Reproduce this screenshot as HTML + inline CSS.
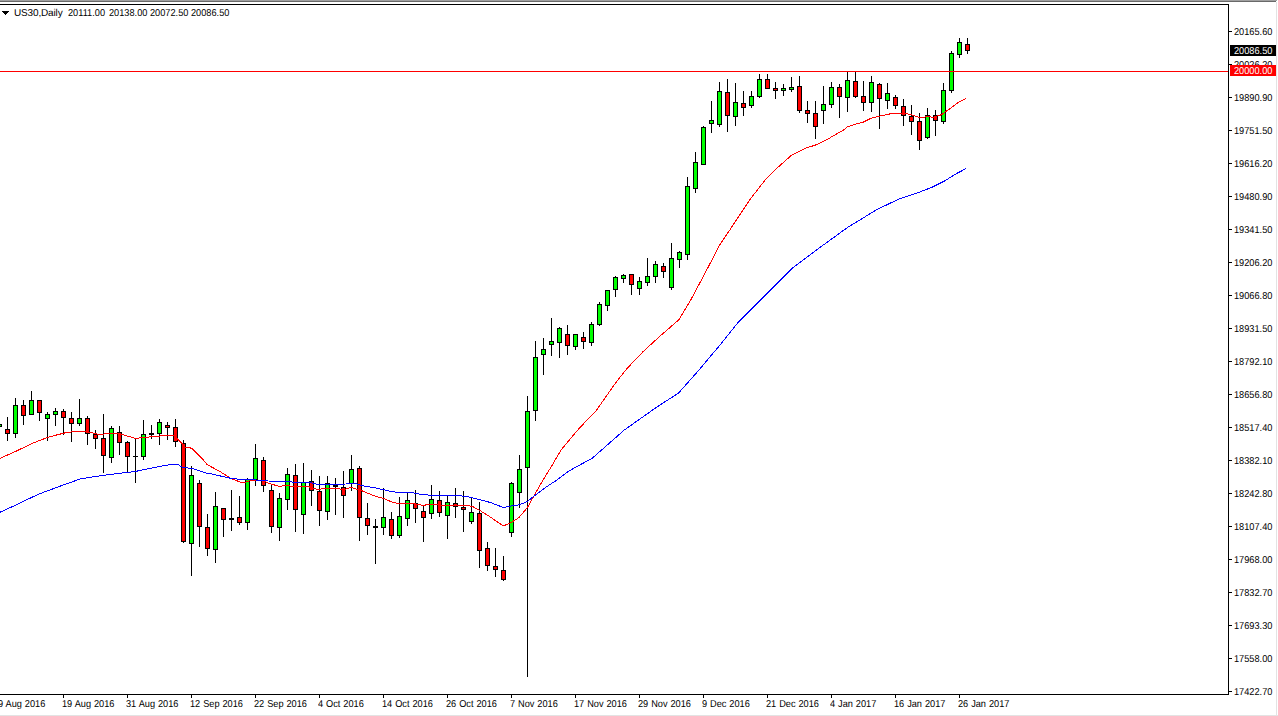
<!DOCTYPE html>
<html><head><meta charset="utf-8">
<style>
html,body{margin:0;padding:0;background:#fff;}
body{width:1278px;height:716px;position:relative;overflow:hidden;}
svg{position:absolute;left:0;top:0;}
.t{position:absolute;font-family:"Liberation Sans",sans-serif;font-size:10px;letter-spacing:-0.5px;line-height:7px;height:7px;white-space:pre;color:#000;text-rendering:geometricPrecision;}
.x{letter-spacing:0px;word-spacing:0.4px;transform:scaleX(0.92);transform-origin:0 0;}
.h{letter-spacing:-0.15px;}
.n{letter-spacing:0;transform:scaleX(0.92);transform-origin:0 0;}
.box{position:absolute;left:1230px;width:46px;height:11px;}
</style></head><body>
<svg width="1278" height="716" viewBox="0 0 1278 716" shape-rendering="crispEdges">
<rect x="0" y="0" width="1277" height="1" fill="#a0a0a0"/>
<rect x="0" y="1" width="1276" height="1" fill="#696969"/>
<rect x="1276" y="2" width="1" height="714" fill="#e3e3e3"/>
<rect x="0" y="715" width="1278" height="1" fill="#e3e3e3"/>
<g fill="#000">
<rect x="0" y="4" width="1229" height="1"/>
<rect x="1228" y="4" width="1" height="691"/>
<rect x="0" y="694" width="1229" height="1"/>
<rect x="1229" y="31" width="3" height="1"/><rect x="1229" y="64" width="3" height="1"/><rect x="1229" y="97" width="3" height="1"/><rect x="1229" y="130" width="3" height="1"/><rect x="1229" y="163" width="3" height="1"/><rect x="1229" y="196" width="3" height="1"/><rect x="1229" y="229" width="3" height="1"/><rect x="1229" y="262" width="3" height="1"/><rect x="1229" y="295" width="3" height="1"/><rect x="1229" y="328" width="3" height="1"/><rect x="1229" y="361" width="3" height="1"/><rect x="1229" y="394" width="3" height="1"/><rect x="1229" y="427" width="3" height="1"/><rect x="1229" y="460" width="3" height="1"/><rect x="1229" y="493" width="3" height="1"/><rect x="1229" y="526" width="3" height="1"/><rect x="1229" y="559" width="3" height="1"/><rect x="1229" y="592" width="3" height="1"/><rect x="1229" y="625" width="3" height="1"/><rect x="1229" y="658" width="3" height="1"/><rect x="1229" y="691" width="3" height="1"/><rect x="-1" y="695" width="1" height="3"/><rect x="63" y="695" width="1" height="3"/><rect x="127" y="695" width="1" height="3"/><rect x="191" y="695" width="1" height="3"/><rect x="255" y="695" width="1" height="3"/><rect x="319" y="695" width="1" height="3"/><rect x="383" y="695" width="1" height="3"/><rect x="447" y="695" width="1" height="3"/><rect x="511" y="695" width="1" height="3"/><rect x="575" y="695" width="1" height="3"/><rect x="639" y="695" width="1" height="3"/><rect x="703" y="695" width="1" height="3"/><rect x="767" y="695" width="1" height="3"/><rect x="831" y="695" width="1" height="3"/><rect x="895" y="695" width="1" height="3"/><rect x="959" y="695" width="1" height="3"/>
</g>

<g fill="#000">
<rect x="-1" y="420" width="1" height="10"/>
<rect x="-3" y="424" width="5" height="3"/>
<rect x="-2" y="425" width="3" height="1" fill="#00ff00"/>
<rect x="7" y="417" width="1" height="24"/>
<rect x="5" y="429" width="5" height="5"/>
<rect x="6" y="430" width="3" height="3" fill="#ff0000"/>
<rect x="15" y="398" width="1" height="40"/>
<rect x="13" y="405" width="5" height="29"/>
<rect x="14" y="406" width="3" height="27" fill="#00ff00"/>
<rect x="23" y="400" width="1" height="25"/>
<rect x="21" y="405" width="5" height="11"/>
<rect x="22" y="406" width="3" height="9" fill="#ff0000"/>
<rect x="31" y="391" width="1" height="24"/>
<rect x="29" y="400" width="5" height="15"/>
<rect x="30" y="401" width="3" height="13" fill="#00ff00"/>
<rect x="39" y="400" width="1" height="21"/>
<rect x="37" y="400" width="5" height="13"/>
<rect x="38" y="401" width="3" height="11" fill="#ff0000"/>
<rect x="47" y="412" width="1" height="29"/>
<rect x="45" y="414" width="5" height="5"/>
<rect x="46" y="415" width="3" height="3" fill="#00ff00"/>
<rect x="55" y="408" width="1" height="18"/>
<rect x="53" y="411" width="5" height="4"/>
<rect x="54" y="412" width="3" height="2" fill="#00ff00"/>
<rect x="63" y="409" width="1" height="26"/>
<rect x="61" y="411" width="5" height="7"/>
<rect x="62" y="412" width="3" height="5" fill="#ff0000"/>
<rect x="71" y="412" width="1" height="30"/>
<rect x="69" y="418" width="5" height="6"/>
<rect x="70" y="419" width="3" height="4" fill="#ff0000"/>
<rect x="79" y="399" width="1" height="27"/>
<rect x="77" y="418" width="5" height="6"/>
<rect x="78" y="419" width="3" height="4" fill="#00ff00"/>
<rect x="87" y="416" width="1" height="29"/>
<rect x="85" y="418" width="5" height="16"/>
<rect x="86" y="419" width="3" height="14" fill="#ff0000"/>
<rect x="95" y="430" width="1" height="19"/>
<rect x="93" y="434" width="5" height="5"/>
<rect x="94" y="435" width="3" height="3" fill="#ff0000"/>
<rect x="103" y="414" width="1" height="59"/>
<rect x="101" y="438" width="5" height="18"/>
<rect x="102" y="439" width="3" height="16" fill="#ff0000"/>
<rect x="111" y="426" width="1" height="37"/>
<rect x="109" y="428" width="5" height="30"/>
<rect x="110" y="429" width="3" height="28" fill="#00ff00"/>
<rect x="119" y="426" width="1" height="29"/>
<rect x="117" y="432" width="5" height="11"/>
<rect x="118" y="433" width="3" height="9" fill="#ff0000"/>
<rect x="127" y="441" width="1" height="32"/>
<rect x="125" y="442" width="5" height="15"/>
<rect x="126" y="443" width="3" height="13" fill="#ff0000"/>
<rect x="135" y="439" width="1" height="44"/>
<rect x="133" y="456" width="5" height="1"/>
<rect x="143" y="420" width="1" height="40"/>
<rect x="141" y="434" width="5" height="23"/>
<rect x="142" y="435" width="3" height="21" fill="#00ff00"/>
<rect x="151" y="425" width="1" height="14"/>
<rect x="149" y="433" width="5" height="2"/>
<rect x="159" y="419" width="1" height="26"/>
<rect x="157" y="422" width="5" height="12"/>
<rect x="158" y="423" width="3" height="10" fill="#00ff00"/>
<rect x="167" y="422" width="1" height="18"/>
<rect x="165" y="425" width="5" height="3"/>
<rect x="166" y="426" width="3" height="1" fill="#ff0000"/>
<rect x="175" y="419" width="1" height="28"/>
<rect x="173" y="427" width="5" height="15"/>
<rect x="174" y="428" width="3" height="13" fill="#ff0000"/>
<rect x="183" y="440" width="1" height="103"/>
<rect x="181" y="443" width="5" height="99"/>
<rect x="182" y="444" width="3" height="97" fill="#ff0000"/>
<rect x="191" y="466" width="1" height="110"/>
<rect x="189" y="475" width="5" height="69"/>
<rect x="190" y="476" width="3" height="67" fill="#00ff00"/>
<rect x="199" y="480" width="1" height="67"/>
<rect x="197" y="483" width="5" height="44"/>
<rect x="198" y="484" width="3" height="42" fill="#ff0000"/>
<rect x="207" y="514" width="1" height="42"/>
<rect x="205" y="527" width="5" height="22"/>
<rect x="206" y="528" width="3" height="20" fill="#ff0000"/>
<rect x="215" y="492" width="1" height="71"/>
<rect x="213" y="506" width="5" height="44"/>
<rect x="214" y="507" width="3" height="42" fill="#00ff00"/>
<rect x="223" y="508" width="1" height="29"/>
<rect x="221" y="508" width="5" height="12"/>
<rect x="222" y="509" width="3" height="10" fill="#ff0000"/>
<rect x="231" y="490" width="1" height="41"/>
<rect x="229" y="518" width="5" height="2"/>
<rect x="239" y="496" width="1" height="29"/>
<rect x="237" y="517" width="5" height="6"/>
<rect x="238" y="518" width="3" height="4" fill="#ff0000"/>
<rect x="247" y="478" width="1" height="52"/>
<rect x="245" y="479" width="5" height="44"/>
<rect x="246" y="480" width="3" height="42" fill="#00ff00"/>
<rect x="255" y="444" width="1" height="42"/>
<rect x="253" y="458" width="5" height="22"/>
<rect x="254" y="459" width="3" height="20" fill="#00ff00"/>
<rect x="263" y="457" width="1" height="35"/>
<rect x="261" y="460" width="5" height="26"/>
<rect x="262" y="461" width="3" height="24" fill="#ff0000"/>
<rect x="271" y="484" width="1" height="49"/>
<rect x="269" y="490" width="5" height="37"/>
<rect x="270" y="491" width="3" height="35" fill="#ff0000"/>
<rect x="279" y="493" width="1" height="48"/>
<rect x="277" y="498" width="5" height="30"/>
<rect x="278" y="499" width="3" height="28" fill="#00ff00"/>
<rect x="287" y="468" width="1" height="42"/>
<rect x="285" y="474" width="5" height="26"/>
<rect x="286" y="475" width="3" height="24" fill="#00ff00"/>
<rect x="295" y="464" width="1" height="68"/>
<rect x="293" y="475" width="5" height="35"/>
<rect x="294" y="476" width="3" height="33" fill="#ff0000"/>
<rect x="303" y="463" width="1" height="71"/>
<rect x="301" y="482" width="5" height="33"/>
<rect x="302" y="483" width="3" height="31" fill="#00ff00"/>
<rect x="311" y="470" width="1" height="36"/>
<rect x="309" y="481" width="5" height="10"/>
<rect x="310" y="482" width="3" height="8" fill="#ff0000"/>
<rect x="319" y="476" width="1" height="50"/>
<rect x="317" y="491" width="5" height="20"/>
<rect x="318" y="492" width="3" height="18" fill="#ff0000"/>
<rect x="327" y="476" width="1" height="44"/>
<rect x="325" y="483" width="5" height="29"/>
<rect x="326" y="484" width="3" height="27" fill="#00ff00"/>
<rect x="335" y="478" width="1" height="37"/>
<rect x="333" y="485" width="5" height="2"/>
<rect x="343" y="471" width="1" height="47"/>
<rect x="341" y="487" width="5" height="9"/>
<rect x="342" y="488" width="3" height="7" fill="#ff0000"/>
<rect x="351" y="455" width="1" height="36"/>
<rect x="349" y="469" width="5" height="15"/>
<rect x="350" y="470" width="3" height="13" fill="#00ff00"/>
<rect x="359" y="466" width="1" height="75"/>
<rect x="357" y="468" width="5" height="50"/>
<rect x="358" y="469" width="3" height="48" fill="#ff0000"/>
<rect x="367" y="503" width="1" height="32"/>
<rect x="365" y="518" width="5" height="8"/>
<rect x="366" y="519" width="3" height="6" fill="#ff0000"/>
<rect x="375" y="519" width="1" height="45"/>
<rect x="373" y="526" width="5" height="2"/>
<rect x="383" y="488" width="1" height="47"/>
<rect x="381" y="517" width="5" height="11"/>
<rect x="382" y="518" width="3" height="9" fill="#00ff00"/>
<rect x="391" y="512" width="1" height="27"/>
<rect x="389" y="519" width="5" height="17"/>
<rect x="390" y="520" width="3" height="15" fill="#ff0000"/>
<rect x="399" y="497" width="1" height="41"/>
<rect x="397" y="516" width="5" height="20"/>
<rect x="398" y="517" width="3" height="18" fill="#00ff00"/>
<rect x="407" y="493" width="1" height="33"/>
<rect x="405" y="500" width="5" height="19"/>
<rect x="406" y="501" width="3" height="17" fill="#00ff00"/>
<rect x="415" y="490" width="1" height="33"/>
<rect x="413" y="503" width="5" height="6"/>
<rect x="414" y="504" width="3" height="4" fill="#ff0000"/>
<rect x="423" y="506" width="1" height="36"/>
<rect x="421" y="511" width="5" height="7"/>
<rect x="422" y="512" width="3" height="5" fill="#ff0000"/>
<rect x="431" y="485" width="1" height="34"/>
<rect x="429" y="499" width="5" height="15"/>
<rect x="430" y="500" width="3" height="13" fill="#00ff00"/>
<rect x="439" y="491" width="1" height="26"/>
<rect x="437" y="500" width="5" height="13"/>
<rect x="438" y="501" width="3" height="11" fill="#ff0000"/>
<rect x="447" y="496" width="1" height="43"/>
<rect x="445" y="502" width="5" height="14"/>
<rect x="446" y="503" width="3" height="12" fill="#00ff00"/>
<rect x="455" y="488" width="1" height="30"/>
<rect x="453" y="503" width="5" height="4"/>
<rect x="454" y="504" width="3" height="2" fill="#ff0000"/>
<rect x="463" y="491" width="1" height="41"/>
<rect x="461" y="507" width="5" height="3"/>
<rect x="462" y="508" width="3" height="1" fill="#ff0000"/>
<rect x="471" y="498" width="1" height="26"/>
<rect x="469" y="512" width="5" height="10"/>
<rect x="470" y="513" width="3" height="8" fill="#00ff00"/>
<rect x="479" y="502" width="1" height="66"/>
<rect x="477" y="513" width="5" height="38"/>
<rect x="478" y="514" width="3" height="36" fill="#ff0000"/>
<rect x="487" y="542" width="1" height="29"/>
<rect x="485" y="548" width="5" height="18"/>
<rect x="486" y="549" width="3" height="16" fill="#ff0000"/>
<rect x="495" y="548" width="1" height="29"/>
<rect x="493" y="566" width="5" height="4"/>
<rect x="494" y="567" width="3" height="2" fill="#ff0000"/>
<rect x="503" y="556" width="1" height="25"/>
<rect x="501" y="570" width="5" height="10"/>
<rect x="502" y="571" width="3" height="8" fill="#ff0000"/>
<rect x="511" y="482" width="1" height="55"/>
<rect x="509" y="483" width="5" height="50"/>
<rect x="510" y="484" width="3" height="48" fill="#00ff00"/>
<rect x="519" y="455" width="1" height="53"/>
<rect x="517" y="469" width="5" height="24"/>
<rect x="518" y="470" width="3" height="22" fill="#00ff00"/>
<rect x="527" y="396" width="1" height="281"/>
<rect x="525" y="411" width="5" height="57"/>
<rect x="526" y="412" width="3" height="55" fill="#00ff00"/>
<rect x="535" y="341" width="1" height="80"/>
<rect x="533" y="357" width="5" height="54"/>
<rect x="534" y="358" width="3" height="52" fill="#00ff00"/>
<rect x="543" y="338" width="1" height="37"/>
<rect x="541" y="349" width="5" height="6"/>
<rect x="542" y="350" width="3" height="4" fill="#00ff00"/>
<rect x="551" y="318" width="1" height="38"/>
<rect x="549" y="341" width="5" height="4"/>
<rect x="550" y="342" width="3" height="2" fill="#00ff00"/>
<rect x="559" y="327" width="1" height="31"/>
<rect x="557" y="328" width="5" height="15"/>
<rect x="558" y="329" width="3" height="13" fill="#00ff00"/>
<rect x="567" y="325" width="1" height="30"/>
<rect x="565" y="334" width="5" height="12"/>
<rect x="566" y="335" width="3" height="10" fill="#ff0000"/>
<rect x="575" y="334" width="1" height="16"/>
<rect x="573" y="334" width="5" height="13"/>
<rect x="574" y="335" width="3" height="11" fill="#00ff00"/>
<rect x="583" y="332" width="1" height="17"/>
<rect x="581" y="337" width="5" height="5"/>
<rect x="582" y="338" width="3" height="3" fill="#ff0000"/>
<rect x="591" y="322" width="1" height="24"/>
<rect x="589" y="324" width="5" height="19"/>
<rect x="590" y="325" width="3" height="17" fill="#00ff00"/>
<rect x="599" y="302" width="1" height="24"/>
<rect x="597" y="304" width="5" height="21"/>
<rect x="598" y="305" width="3" height="19" fill="#00ff00"/>
<rect x="607" y="290" width="1" height="21"/>
<rect x="605" y="290" width="5" height="16"/>
<rect x="606" y="291" width="3" height="14" fill="#00ff00"/>
<rect x="615" y="276" width="1" height="21"/>
<rect x="613" y="277" width="5" height="13"/>
<rect x="614" y="278" width="3" height="11" fill="#00ff00"/>
<rect x="623" y="274" width="1" height="9"/>
<rect x="621" y="275" width="5" height="4"/>
<rect x="622" y="276" width="3" height="2" fill="#00ff00"/>
<rect x="631" y="274" width="1" height="21"/>
<rect x="629" y="274" width="5" height="11"/>
<rect x="630" y="275" width="3" height="9" fill="#ff0000"/>
<rect x="639" y="277" width="1" height="18"/>
<rect x="637" y="281" width="5" height="8"/>
<rect x="638" y="282" width="3" height="6" fill="#00ff00"/>
<rect x="647" y="258" width="1" height="28"/>
<rect x="645" y="276" width="5" height="7"/>
<rect x="646" y="277" width="3" height="5" fill="#00ff00"/>
<rect x="655" y="261" width="1" height="22"/>
<rect x="653" y="264" width="5" height="13"/>
<rect x="654" y="265" width="3" height="11" fill="#00ff00"/>
<rect x="663" y="263" width="1" height="15"/>
<rect x="661" y="266" width="5" height="6"/>
<rect x="662" y="267" width="3" height="4" fill="#ff0000"/>
<rect x="671" y="243" width="1" height="47"/>
<rect x="669" y="258" width="5" height="30"/>
<rect x="670" y="259" width="3" height="28" fill="#00ff00"/>
<rect x="679" y="251" width="1" height="17"/>
<rect x="677" y="252" width="5" height="8"/>
<rect x="678" y="253" width="3" height="6" fill="#00ff00"/>
<rect x="687" y="177" width="1" height="83"/>
<rect x="685" y="186" width="5" height="69"/>
<rect x="686" y="187" width="3" height="67" fill="#00ff00"/>
<rect x="695" y="152" width="1" height="41"/>
<rect x="693" y="162" width="5" height="27"/>
<rect x="694" y="163" width="3" height="25" fill="#00ff00"/>
<rect x="703" y="126" width="1" height="39"/>
<rect x="701" y="127" width="5" height="38"/>
<rect x="702" y="128" width="3" height="36" fill="#00ff00"/>
<rect x="711" y="101" width="1" height="32"/>
<rect x="709" y="120" width="5" height="4"/>
<rect x="710" y="121" width="3" height="2" fill="#00ff00"/>
<rect x="719" y="82" width="1" height="45"/>
<rect x="717" y="91" width="5" height="34"/>
<rect x="718" y="92" width="3" height="32" fill="#00ff00"/>
<rect x="727" y="79" width="1" height="53"/>
<rect x="725" y="92" width="5" height="24"/>
<rect x="726" y="93" width="3" height="22" fill="#ff0000"/>
<rect x="735" y="83" width="1" height="43"/>
<rect x="733" y="102" width="5" height="15"/>
<rect x="734" y="103" width="3" height="13" fill="#00ff00"/>
<rect x="743" y="91" width="1" height="25"/>
<rect x="741" y="103" width="5" height="5"/>
<rect x="742" y="104" width="3" height="3" fill="#ff0000"/>
<rect x="751" y="91" width="1" height="17"/>
<rect x="749" y="96" width="5" height="10"/>
<rect x="750" y="97" width="3" height="8" fill="#00ff00"/>
<rect x="759" y="74" width="1" height="24"/>
<rect x="757" y="79" width="5" height="18"/>
<rect x="758" y="80" width="3" height="16" fill="#00ff00"/>
<rect x="767" y="74" width="1" height="15"/>
<rect x="765" y="79" width="5" height="10"/>
<rect x="766" y="80" width="3" height="8" fill="#ff0000"/>
<rect x="775" y="82" width="1" height="17"/>
<rect x="773" y="88" width="5" height="3"/>
<rect x="774" y="89" width="3" height="1" fill="#ff0000"/>
<rect x="783" y="84" width="1" height="12"/>
<rect x="781" y="88" width="5" height="3"/>
<rect x="782" y="89" width="3" height="1" fill="#00ff00"/>
<rect x="791" y="77" width="1" height="15"/>
<rect x="789" y="87" width="5" height="3"/>
<rect x="790" y="88" width="3" height="1" fill="#00ff00"/>
<rect x="799" y="76" width="1" height="37"/>
<rect x="797" y="86" width="5" height="25"/>
<rect x="798" y="87" width="3" height="23" fill="#ff0000"/>
<rect x="807" y="101" width="1" height="22"/>
<rect x="805" y="110" width="5" height="4"/>
<rect x="806" y="111" width="3" height="2" fill="#ff0000"/>
<rect x="815" y="101" width="1" height="38"/>
<rect x="813" y="113" width="5" height="14"/>
<rect x="814" y="114" width="3" height="12" fill="#ff0000"/>
<rect x="823" y="86" width="1" height="38"/>
<rect x="821" y="104" width="5" height="7"/>
<rect x="822" y="105" width="3" height="5" fill="#00ff00"/>
<rect x="831" y="82" width="1" height="26"/>
<rect x="829" y="87" width="5" height="18"/>
<rect x="830" y="88" width="3" height="16" fill="#00ff00"/>
<rect x="839" y="84" width="1" height="34"/>
<rect x="837" y="87" width="5" height="10"/>
<rect x="838" y="88" width="3" height="8" fill="#ff0000"/>
<rect x="847" y="72" width="1" height="40"/>
<rect x="845" y="80" width="5" height="18"/>
<rect x="846" y="81" width="3" height="16" fill="#00ff00"/>
<rect x="855" y="72" width="1" height="26"/>
<rect x="853" y="81" width="5" height="16"/>
<rect x="854" y="82" width="3" height="14" fill="#ff0000"/>
<rect x="863" y="81" width="1" height="30"/>
<rect x="861" y="96" width="5" height="7"/>
<rect x="862" y="97" width="3" height="5" fill="#ff0000"/>
<rect x="871" y="76" width="1" height="36"/>
<rect x="869" y="82" width="5" height="21"/>
<rect x="870" y="83" width="3" height="19" fill="#00ff00"/>
<rect x="879" y="83" width="1" height="46"/>
<rect x="877" y="84" width="5" height="15"/>
<rect x="878" y="85" width="3" height="13" fill="#ff0000"/>
<rect x="887" y="83" width="1" height="26"/>
<rect x="885" y="93" width="5" height="8"/>
<rect x="886" y="94" width="3" height="6" fill="#00ff00"/>
<rect x="895" y="95" width="1" height="14"/>
<rect x="893" y="97" width="5" height="9"/>
<rect x="894" y="98" width="3" height="7" fill="#ff0000"/>
<rect x="903" y="99" width="1" height="27"/>
<rect x="901" y="106" width="5" height="10"/>
<rect x="902" y="107" width="3" height="8" fill="#ff0000"/>
<rect x="911" y="105" width="1" height="30"/>
<rect x="909" y="116" width="5" height="6"/>
<rect x="910" y="117" width="3" height="4" fill="#ff0000"/>
<rect x="919" y="113" width="1" height="37"/>
<rect x="917" y="121" width="5" height="20"/>
<rect x="918" y="122" width="3" height="18" fill="#ff0000"/>
<rect x="927" y="108" width="1" height="31"/>
<rect x="925" y="115" width="5" height="23"/>
<rect x="926" y="116" width="3" height="21" fill="#00ff00"/>
<rect x="935" y="110" width="1" height="26"/>
<rect x="933" y="115" width="5" height="6"/>
<rect x="934" y="116" width="3" height="4" fill="#ff0000"/>
<rect x="943" y="83" width="1" height="41"/>
<rect x="941" y="90" width="5" height="32"/>
<rect x="942" y="91" width="3" height="30" fill="#00ff00"/>
<rect x="951" y="51" width="1" height="42"/>
<rect x="949" y="53" width="5" height="38"/>
<rect x="950" y="54" width="3" height="36" fill="#00ff00"/>
<rect x="959" y="38" width="1" height="20"/>
<rect x="957" y="42" width="5" height="13"/>
<rect x="958" y="43" width="3" height="11" fill="#00ff00"/>
<rect x="967" y="38" width="1" height="16"/>
<rect x="965" y="44" width="5" height="7"/>
<rect x="966" y="45" width="3" height="5" fill="#ff0000"/>
</g>
<g fill="none" stroke-width="1">
<polyline points="0.0,458.4 15.4,451.5 33.8,442.7 49.1,436.9 64.5,433.0 76.8,431.2 86.0,431.5 99.8,434.6 111.0,433.0 122.9,434.6 135.2,438.4 147.4,437.2 165.9,435.4 174.0,435.6 177.8,439.3 182.7,444.2 185.6,447.4 189.6,447.6 192.5,449.0 197.4,454.0 203.3,459.8 207.2,464.7 220.0,471.5 231.0,478.5 240.0,482.0 245.6,482.2 251.0,480.5 261.0,480.0 269.0,483.3 279.0,486.4 286.0,485.5 293.0,486.4 301.5,486.4 307.6,486.4 314.4,488.6 319.3,489.6 324.2,488.1 338.0,488.4 343.0,490.0 351.0,487.3 362.0,490.8 376.0,496.5 383.0,498.2 392.7,502.4 398.0,503.4 414.0,503.5 423.0,505.4 432.0,504.0 442.0,505.4 467.0,505.4 472.7,506.6 481.0,511.2 490.0,516.8 503.3,526.0 512.0,522.0 519.0,517.5 527.3,507.7 533.0,497.5 542.7,480.7 553.0,463.8 561.0,450.0 571.0,438.0 580.0,427.5 596.3,410.4 615.9,382.5 627.0,368.5 642.9,351.8 658.8,337.2 678.7,319.9 690.0,301.4 702.8,277.4 719.6,245.2 729.4,230.6 739.1,215.9 750.9,198.3 764.6,180.7 778.3,167.0 792.0,154.8 807.5,147.3 814.5,145.5 825.7,140.4 832.7,136.2 843.8,129.9 847.0,127.0 854.0,124.6 862.4,122.5 870.7,118.4 879.0,116.3 887.5,114.5 893.0,113.1 901.5,113.1 911.0,114.5 919.6,117.6 928.0,116.6 933.5,117.3 942.0,114.5 950.3,108.3 958.7,102.0 966.4,98.5" stroke="#ff0000"/>
<polyline points="0.0,512.2 15.4,505.2 38.4,494.2 61.4,485.7 79.9,479.1 95.2,476.5 115.2,473.8 135.2,471.5 153.6,467.6 172.0,464.2 177.8,464.4 181.7,467.0 187.6,468.0 194.4,469.1 206.2,473.0 212.0,474.0 224.8,477.0 233.6,478.9 250.0,479.5 268.0,481.0 290.0,481.3 293.0,482.3 309.6,482.3 317.4,484.4 346.5,484.0 349.0,483.0 355.0,483.5 362.0,485.6 376.0,488.0 390.0,491.2 397.0,492.3 411.0,492.4 421.0,494.5 436.0,495.6 458.7,495.6 467.0,496.5 478.0,499.3 490.0,502.4 503.5,507.5 512.0,505.9 519.0,504.9 527.0,501.7 537.0,493.8 548.0,485.8 557.0,480.0 568.6,471.2 592.5,458.0 624.3,430.0 656.2,407.5 678.7,392.9 698.7,370.3 719.9,345.1 738.2,322.3 763.9,296.6 792.8,267.7 818.5,248.5 847.4,227.6 876.3,209.9 897.7,199.6 919.3,192.2 932.0,187.3 944.5,181.0 955.7,174.0 966.2,168.5" stroke="#0000ff"/>
</g>
<rect x="0" y="71" width="1228" height="1" fill="#ff0000"/>
<rect x="2" y="11" width="7" height="1" fill="#000"/><rect x="3" y="12" width="5" height="1" fill="#000"/><rect x="4" y="13" width="3" height="1" fill="#000"/><rect x="5" y="14" width="1" height="1" fill="#000"/>
</svg>
<div class="t h" style="left:14px;top:10px">US30,Daily</div>
<div class="t n" style="left:68px;top:10px">20111.00</div>
<div class="t n" style="left:109px;top:10px">20138.00</div>
<div class="t n" style="left:150px;top:10px">20072.50</div>
<div class="t n" style="left:191px;top:10px">20086.50</div>
<div class="t n" style="left:1234px;top:29px">20165.60</div><div class="t n" style="left:1234px;top:62px">20026.20</div><div class="t n" style="left:1234px;top:95px">19890.90</div><div class="t n" style="left:1234px;top:128px">19751.50</div><div class="t n" style="left:1234px;top:161px">19616.20</div><div class="t n" style="left:1234px;top:194px">19480.90</div><div class="t n" style="left:1234px;top:227px">19341.50</div><div class="t n" style="left:1234px;top:260px">19206.20</div><div class="t n" style="left:1234px;top:293px">19066.80</div><div class="t n" style="left:1234px;top:326px">18931.50</div><div class="t n" style="left:1234px;top:359px">18792.10</div><div class="t n" style="left:1234px;top:392px">18656.80</div><div class="t n" style="left:1234px;top:425px">18517.40</div><div class="t n" style="left:1234px;top:458px">18382.10</div><div class="t n" style="left:1234px;top:491px">18242.80</div><div class="t n" style="left:1234px;top:524px">18107.40</div><div class="t n" style="left:1234px;top:557px">17968.00</div><div class="t n" style="left:1234px;top:590px">17832.70</div><div class="t n" style="left:1234px;top:623px">17693.30</div><div class="t n" style="left:1234px;top:656px">17558.00</div><div class="t n" style="left:1234px;top:689px">17422.70</div>
<div class="t x" style="left:-2px;top:701px">9 Aug 2016</div><div class="t x" style="left:62px;top:701px">19 Aug 2016</div><div class="t x" style="left:126px;top:701px">31 Aug 2016</div><div class="t x" style="left:190px;top:701px">12 Sep 2016</div><div class="t x" style="left:254px;top:701px">22 Sep 2016</div><div class="t x" style="left:318px;top:701px">4 Oct 2016</div><div class="t x" style="left:382px;top:701px">14 Oct 2016</div><div class="t x" style="left:446px;top:701px">26 Oct 2016</div><div class="t x" style="left:510px;top:701px">7 Nov 2016</div><div class="t x" style="left:574px;top:701px">17 Nov 2016</div><div class="t x" style="left:638px;top:701px">29 Nov 2016</div><div class="t x" style="left:702px;top:701px">9 Dec 2016</div><div class="t x" style="left:766px;top:701px">21 Dec 2016</div><div class="t x" style="left:830px;top:701px">4 Jan 2017</div><div class="t x" style="left:894px;top:701px">16 Jan 2017</div><div class="t x" style="left:958px;top:701px">26 Jan 2017</div>
<div class="box" style="top:45px;background:#000"></div>
<div class="box" style="top:65px;background:#ff0000"></div>
<div class="t n" style="left:1234px;top:48px;color:#fff">20086.50</div>
<div class="t n" style="left:1234px;top:68px;color:#fff">20000.00</div>
</body></html>
